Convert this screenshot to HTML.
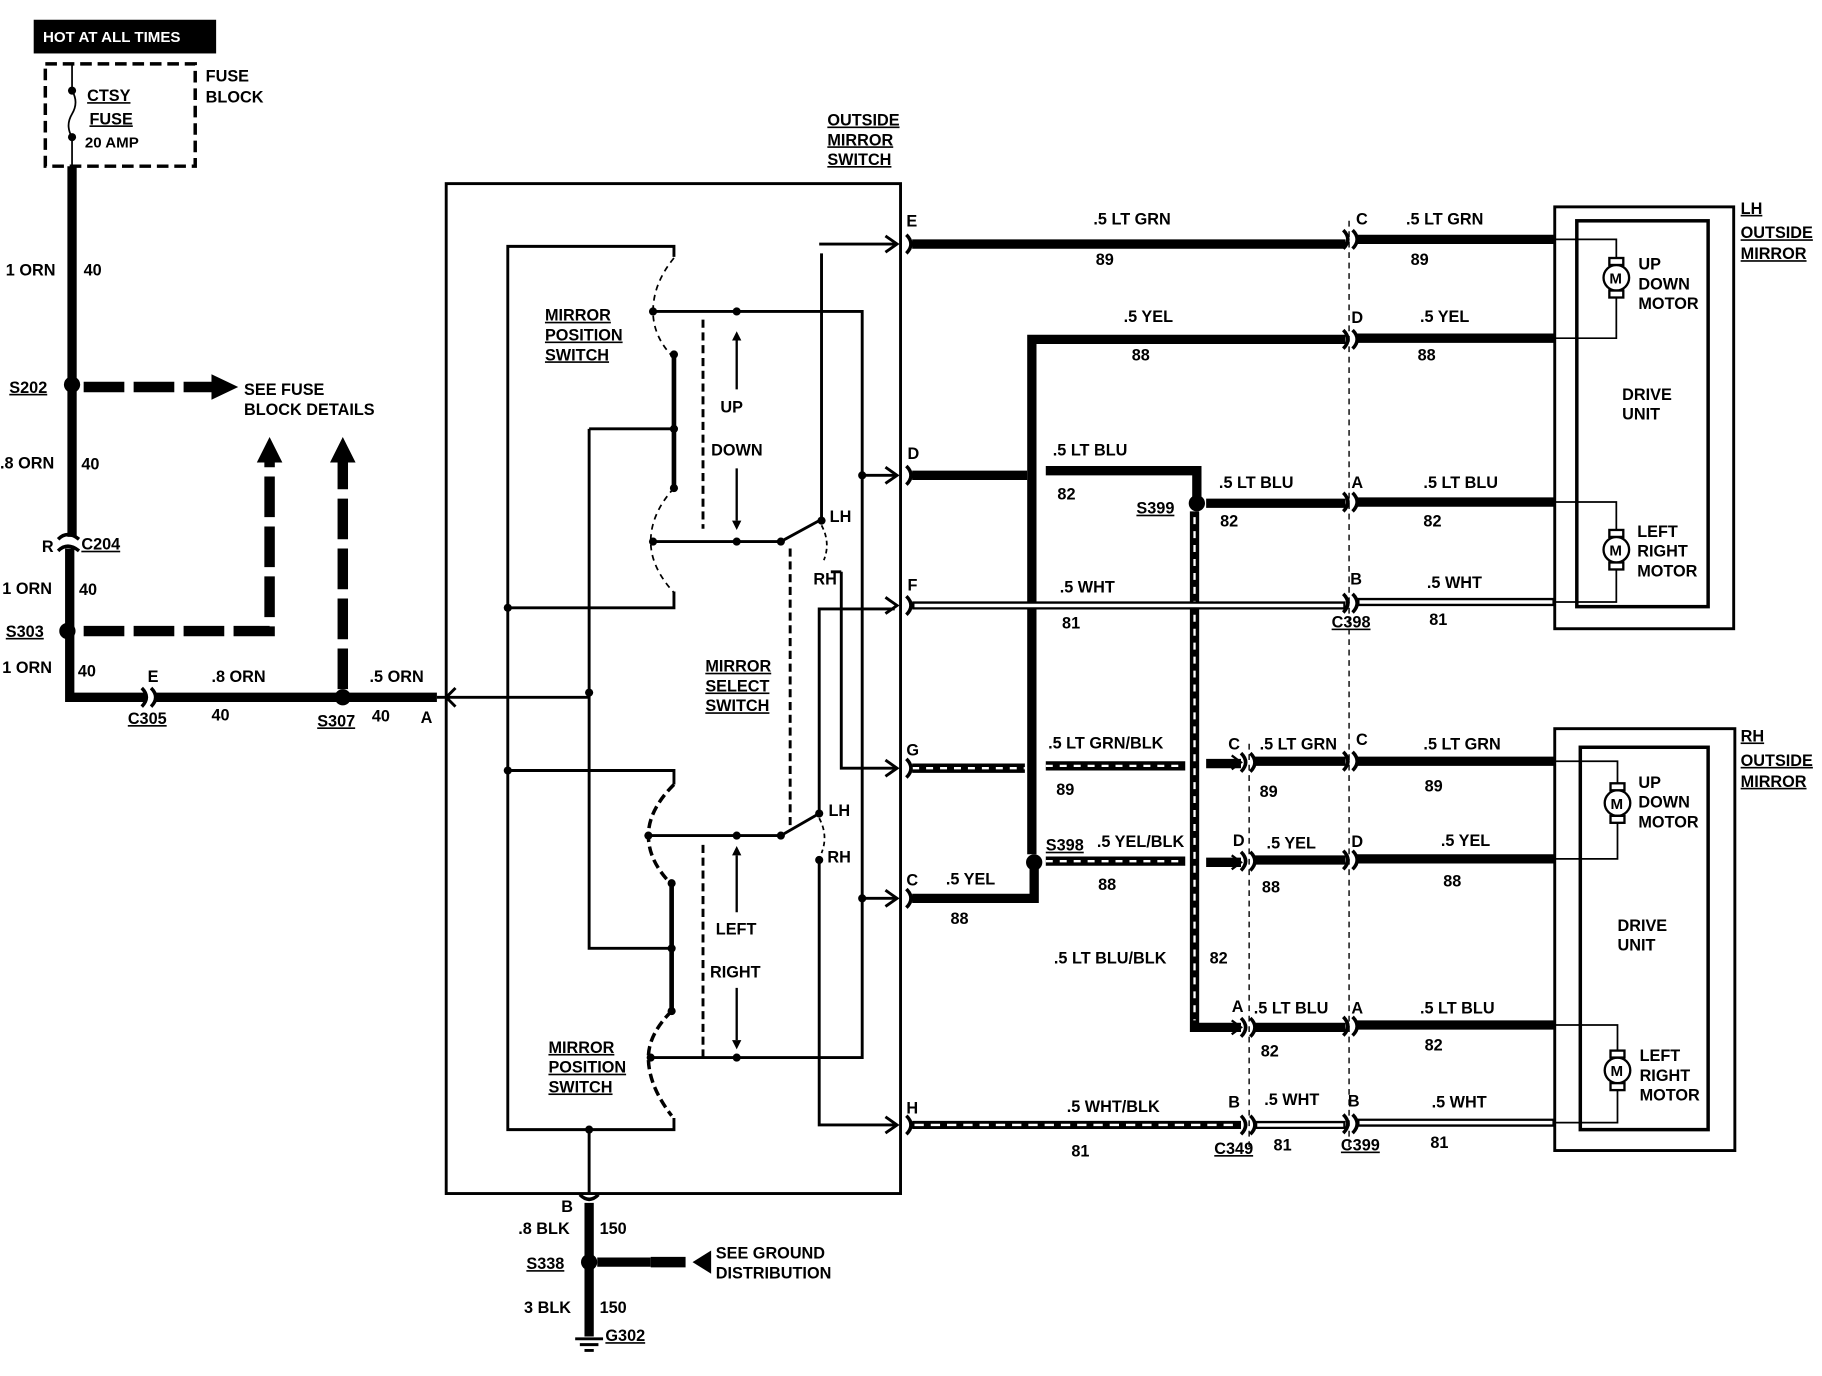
<!DOCTYPE html>
<html><head><meta charset="utf-8"><style>
html,body{margin:0;padding:0;background:#fff}
svg{display:block}
text{font-family:"Liberation Sans",sans-serif;font-weight:bold;font-size:14px;fill:#000}
.u{text-decoration:underline}
</style></head><body>
<svg width="1822" height="1376" viewBox="0 0 1568 1184" preserveAspectRatio="none" xmlns="http://www.w3.org/2000/svg">
<defs>
<g id="motor"><circle cx="0" cy="0" r="11" fill="#fff" stroke="#000" stroke-width="2"/><rect x="-6" y="-17" width="12" height="6" fill="#fff" stroke="#000" stroke-width="2"/><rect x="-6" y="11" width="12" height="6" fill="#fff" stroke="#000" stroke-width="2"/><text x="-6" y="5" style="font-size:13px">M</text></g>
</defs>
<!-- HOT box -->
<rect x="29" y="17" width="157" height="29" fill="#000"/>
<text x="37" y="36" style="fill:#fff;font-size:13px">HOT AT ALL TIMES</text>
<rect x="39" y="55" width="129" height="88" fill="none" stroke="#000" stroke-width="3" stroke-dasharray="10,5"/>
<path d="M62 55 V78 M62 78 q6 10 0 20 q-6 10 0 20 V143" fill="none" stroke="#000" stroke-width="1.5"/>
<circle cx="62" cy="78" r="3.5"/><circle cx="62" cy="118" r="3.5"/>
<text x="75" y="87" class="u">CTSY</text><text x="77" y="107" class="u">FUSE</text>
<text x="73" y="127" style="font-size:13px">20 AMP</text>
<text x="177" y="70">FUSE</text><text x="177" y="88">BLOCK</text>
<!-- main feed -->
<path d="M62 143 V462 M60 472 V600 H126 M134 600 H376" fill="none" stroke="#000" stroke-width="8"/>
<path d="M50 464 q8 -8 18 0 M50 474 q8 -8 18 0 M122 592 q8 8 0 16 M130 592 q8 8 0 16" fill="none" stroke="#000" stroke-width="3"/>
<circle cx="62" cy="331" r="7"/><circle cx="58" cy="543" r="7"/><circle cx="295" cy="600" r="7"/>
<text x="5" y="237">1 ORN</text><text x="72" y="237">40</text>
<text x="8" y="338" class="u">S202</text>
<text x="0" y="403">.8 ORN</text><text x="70" y="404">40</text>
<text x="36" y="475">R</text><text x="70" y="473" class="u">C204</text>
<text x="2" y="511">1 ORN</text><text x="68" y="512">40</text>
<text x="5" y="548" class="u">S303</text>
<text x="2" y="579">1 ORN</text><text x="67" y="582">40</text>
<text x="127" y="587">E</text><text x="182" y="587">.8 ORN</text><text x="110" y="623" class="u">C305</text><text x="182" y="620">40</text>
<text x="273" y="625" class="u">S307</text><text x="320" y="621">40</text><text x="318" y="587">.5 ORN</text><text x="362" y="622">A</text>
<!-- dashed arrows -->
<path d="M72 333 H185 M72 543 H232 V395 M295 593 V395" fill="none" stroke="#000" stroke-width="9" stroke-dasharray="35,8"/>
<path d="M182 322 L205 333 L182 344Z M221 398 L232 376 L243 398Z M284 398 L295 376 L306 398Z"/>
<text x="210" y="340">SEE FUSE</text><text x="210" y="357">BLOCK DETAILS</text>
<!-- switch outer box -->
<rect x="384" y="158" width="391" height="869" fill="none" stroke="#000" stroke-width="2.5"/>
<text x="712" y="108" class="u">OUTSIDE</text><text x="712" y="125" class="u">MIRROR</text><text x="712" y="142" class="u">SWITCH</text>
<path d="M376 600 H507 M392 592 L384 600 L392 608" fill="none" stroke="#000" stroke-width="2.5"/>
<!-- inner -->
<g fill="none" stroke="#000" stroke-width="2.5">
<path d="M580 221 V212 H437 V972 H580 V962"/>
<path d="M437 523 H580 V509"/><path d="M437 663 H580 V675"/>
<path d="M507 369 H580 M507 369 V816 H578"/>
<path d="M580 305 V420 M578 760 V870" stroke-width="4"/>
<path d="M562 268 H742 V910 H560"/>
<path d="M560 466 H672 L705 448 M707 218 V448 M705 210 H770"/>
<path d="M557 719 H672 L705 700 M705 700 V524 H770"/>
<path d="M705 740 V968 H770 M724 492 V661 H770 M715 492 H724"/>
<path d="M742 409 H770 M742 773 H770"/>
<path d="M762 203 L772 210 L762 217 M762 402 L772 409 L762 416 M762 514 L772 521 L762 528 M762 654 L772 661 L762 668 M762 766 L772 773 L762 780 M762 961 L772 968 L762 975"/>
<path d="M580 222 q-18 22 -18 46 q0 22 18 40 M580 420 q-20 22 -20 46 q0 22 20 44" stroke-width="1.5" stroke-dasharray="5,4"/>
<path d="M580 675 q-22 22 -22 44 q0 22 20 42 M578 870 q-20 20 -20 40 q0 24 20 50" stroke-width="3" stroke-dasharray="8,4"/>
<path d="M605 275 V455 M605 727 V912 M680 472 V712" stroke-width="2.5" stroke-dasharray="7,4"/>
<path d="M707 452 q8 15 2 30 M705 704 q8 15 2 30" stroke-width="1.5" stroke-dasharray="4,3"/>
<path d="M634 293 V335 M634 403 V448 M634 736 V785 M634 850 V895" stroke-width="2"/>
</g>
<path d="M630 293 l4 -8 l4 8Z M630 448 l4 8 l4 -8Z M630 736 l4 -8 l4 8Z M630 895 l4 8 l4 -8Z"/>
<g><circle cx="562" cy="268" r="3.5"/><circle cx="634" cy="268" r="3.5"/><circle cx="580" cy="369" r="3.5"/><circle cx="580" cy="305" r="3.5"/><circle cx="580" cy="420" r="3.5"/><circle cx="562" cy="466" r="3.5"/><circle cx="634" cy="466" r="3.5"/><circle cx="672" cy="466" r="3.5"/><circle cx="707" cy="448" r="3.5"/><circle cx="437" cy="523" r="3.5"/><circle cx="507" cy="596" r="3.5"/><circle cx="437" cy="663" r="3.5"/><circle cx="558" cy="719" r="3.5"/><circle cx="634" cy="719" r="3.5"/><circle cx="672" cy="719" r="3.5"/><circle cx="705" cy="700" r="3.5"/><circle cx="705" cy="740" r="3.5"/><circle cx="578" cy="760" r="3.5"/><circle cx="578" cy="816" r="3.5"/><circle cx="578" cy="870" r="3.5"/><circle cx="560" cy="910" r="3.5"/><circle cx="634" cy="910" r="3.5"/><circle cx="742" cy="409" r="3.5"/><circle cx="742" cy="773" r="3.5"/><circle cx="507" cy="972" r="3.5"/></g>
<text x="469" y="276" class="u">MIRROR</text><text x="469" y="293" class="u">POSITION</text><text x="469" y="310" class="u">SWITCH</text>
<text x="620" y="355">UP</text><text x="612" y="392">DOWN</text>
<text x="714" y="449">LH</text><text x="700" y="503">RH</text>
<text x="607" y="578" class="u">MIRROR</text><text x="607" y="595" class="u">SELECT</text><text x="607" y="612" class="u">SWITCH</text>
<text x="713" y="702">LH</text><text x="712" y="742">RH</text>
<text x="616" y="804">LEFT</text><text x="611" y="841">RIGHT</text>
<text x="472" y="906" class="u">MIRROR</text><text x="472" y="923" class="u">POSITION</text><text x="472" y="940" class="u">SWITCH</text>
<!-- ground -->
<path d="M507 972 V1027" stroke="#000" stroke-width="2.5"/>
<path d="M507 1035 V1150 M514 1086 H560" fill="none" stroke="#000" stroke-width="8"/>
<path d="M560 1086 H596" stroke="#000" stroke-width="9" stroke-dasharray="30,6"/>
<path d="M612 1076 L596 1086 L612 1096Z"/>
<path d="M499 1028 q8 8 16 0" fill="none" stroke="#000" stroke-width="3"/>
<circle cx="507" cy="1086" r="7"/>
<path d="M495 1152 H519 M499 1157 H515 M503 1162 H511" stroke="#000" stroke-width="2.5"/>
<text x="483" y="1043">B</text><text x="446" y="1062">.8 BLK</text><text x="516" y="1062">150</text>
<text x="453" y="1092" class="u">S338</text><text x="616" y="1083">SEE GROUND</text><text x="616" y="1100">DISTRIBUTION</text>
<text x="451" y="1130">3 BLK</text><text x="516" y="1130">150</text><text x="521" y="1154" class="u">G302</text>
<!-- right wires -->
<g fill="none" stroke="#000" stroke-width="8">
<path d="M785 210 H1158 M1168 206 H1338"/>
<path d="M1158 292 H888 V735 M1168 291 H1338"/>
<path d="M785 409 H884 M900 405 H1030 V433 M1038 433 H1158 M1168 432 H1338"/>
<path d="M785 773 H890 V742"/>
<path d="M1038 742 H1068 M1080 740 H1158 M1168 739 H1338"/>
<path d="M1080 655 H1158 M1168 655 H1338"/>
<path d="M1080 884 H1158 M1168 882 H1338"/>
</g>
<!-- striped -->
<g fill="none">
<path d="M785 661 H882 M900 659 H1020 M1038 657 H1068" stroke="#000" stroke-width="8"/>
<path d="M785 661 H882 M900 659 H1020" stroke="#fff" stroke-width="2" stroke-dasharray="6,6"/>
<path d="M900 741 H1020" stroke="#000" stroke-width="8"/><path d="M900 741 H1020" stroke="#fff" stroke-width="2" stroke-dasharray="6,6"/>
<path d="M1028 440 V884 H1068" stroke="#000" stroke-width="8"/><path d="M1028 445 V878" stroke="#fff" stroke-width="2" stroke-dasharray="6,6"/>
<path d="M785 968 H1068" stroke="#000" stroke-width="7"/><path d="M787 968 H1066" stroke="#fff" stroke-width="2" stroke-dasharray="8,6"/>
<path d="M785 521 H1158 M1168 518 H1338 M1080 968 H1158 M1168 966 H1338" stroke="#000" stroke-width="7"/>
<path d="M787 521 H1156 M1170 518 H1336 M1082 968 H1156 M1170 966 H1336" stroke="#fff" stroke-width="3"/>
</g>
<circle cx="1030" cy="433" r="7"/><circle cx="890" cy="742" r="7"/>
<!-- connector marks -->
<g fill="none" stroke="#000" stroke-width="3">
<path d="M780 202 q8 8 0 16 M780 401 q8 8 0 16 M780 513 q8 8 0 16 M780 653 q8 8 0 16 M780 765 q8 8 0 16 M780 960 q8 8 0 16"/>
<path d="M1156 198 q8 8 0 16 M1164 198 q8 8 0 16 M1156 284 q8 8 0 16 M1164 284 q8 8 0 16 M1156 424 q8 8 0 16 M1164 424 q8 8 0 16 M1156 511 q8 8 0 16 M1164 511 q8 8 0 16"/>
<path d="M1156 647 q8 8 0 16 M1164 647 q8 8 0 16 M1156 732 q8 8 0 16 M1164 732 q8 8 0 16 M1156 875 q8 8 0 16 M1164 875 q8 8 0 16 M1156 959 q8 8 0 16 M1164 959 q8 8 0 16"/>
<path d="M1068 648 q8 8 0 16 M1076 648 q8 8 0 16 M1068 733 q8 8 0 16 M1076 733 q8 8 0 16 M1068 876 q8 8 0 16 M1076 876 q8 8 0 16 M1068 960 q8 8 0 16 M1076 960 q8 8 0 16"/>
<path d="M1060 650 l8 6 l-8 6 M1060 736 l8 6 l-8 6 M1060 878 l8 6 l-8 6" stroke-width="2"/>
<path d="M1161 190 V990 M1075 640 V990" stroke-width="1.2" stroke-dasharray="5,4"/>
</g>
<!-- labels right -->
<text x="780" y="195">E</text><text x="941" y="193">.5 LT GRN</text><text x="943" y="228">89</text>
<text x="1167" y="193">C</text><text x="1210" y="193">.5 LT GRN</text><text x="1214" y="228">89</text>
<text x="967" y="277">.5 YEL</text><text x="974" y="310">88</text><text x="1163" y="278">D</text><text x="1222" y="277">.5 YEL</text><text x="1220" y="310">88</text>
<text x="781" y="395">D</text><text x="906" y="392">.5 LT BLU</text><text x="910" y="430">82</text>
<text x="978" y="442" class="u">S399</text><text x="1049" y="420">.5 LT BLU</text><text x="1050" y="453">82</text>
<text x="1163" y="420">A</text><text x="1225" y="420">.5 LT BLU</text><text x="1225" y="453">82</text>
<text x="781" y="508">F</text><text x="912" y="510">.5 WHT</text><text x="914" y="541">81</text>
<text x="1162" y="503">B</text><text x="1228" y="506">.5 WHT</text><text x="1146" y="540" class="u">C398</text><text x="1230" y="538">81</text>
<text x="780" y="650">G</text><text x="902" y="644">.5 LT GRN/BLK</text><text x="909" y="684">89</text>
<text x="1057" y="645">C</text><text x="1084" y="645">.5 LT GRN</text><text x="1167" y="641">C</text><text x="1225" y="645">.5 LT GRN</text>
<text x="1084" y="686">89</text><text x="1226" y="681">89</text>
<text x="900" y="732" class="u">S398</text><text x="944" y="729">.5 YEL/BLK</text><text x="945" y="766">88</text>
<text x="1061" y="728">D</text><text x="1090" y="730">.5 YEL</text><text x="1163" y="729">D</text><text x="1240" y="728">.5 YEL</text>
<text x="1086" y="768">88</text><text x="1242" y="763">88</text>
<text x="780" y="762">C</text><text x="814" y="761">.5 YEL</text><text x="818" y="795">88</text>
<text x="907" y="829">.5 LT BLU/BLK</text><text x="1041" y="829">82</text>
<text x="1060" y="871">A</text><text x="1079" y="872">.5 LT BLU</text><text x="1163" y="872">A</text><text x="1222" y="872">.5 LT BLU</text>
<text x="1085" y="909">82</text><text x="1226" y="904">82</text>
<text x="780" y="958">H</text><text x="918" y="957">.5 WHT/BLK</text><text x="922" y="995">81</text>
<text x="1057" y="953">B</text><text x="1088" y="951">.5 WHT</text><text x="1160" y="952">B</text><text x="1232" y="953">.5 WHT</text>
<text x="1045" y="993" class="u">C349</text><text x="1096" y="990">81</text><text x="1154" y="990" class="u">C399</text><text x="1231" y="988">81</text>
<!-- mirrors -->
<g fill="none" stroke="#000">
<rect x="1338" y="178" width="154" height="363" stroke-width="2.5"/>
<rect x="1357" y="190" width="113" height="332" stroke-width="3"/>
<rect x="1338" y="627" width="155" height="363" stroke-width="2.5"/>
<rect x="1360" y="643" width="110" height="329" stroke-width="3"/>
<path d="M1338 206 H1391 V222 M1391 256 V291 H1338 M1338 432 H1391 V456 M1391 490 V518 H1338" stroke-width="1.5"/>
<path d="M1338 655 H1392 V674 M1392 708 V739 H1338 M1338 882 H1392 V904 M1392 938 V966 H1338" stroke-width="1.5"/>
</g>
<use href="#motor" x="1391" y="239"/><use href="#motor" x="1391" y="473"/>
<use href="#motor" x="1392" y="691"/><use href="#motor" x="1392" y="921"/>
<text x="1498" y="184" class="u">LH</text><text x="1498" y="205" class="u">OUTSIDE</text><text x="1498" y="223" class="u">MIRROR</text>
<text x="1410" y="232">UP</text><text x="1410" y="249">DOWN</text><text x="1410" y="266">MOTOR</text>
<text x="1396" y="344">DRIVE</text><text x="1396" y="361">UNIT</text>
<text x="1409" y="462">LEFT</text><text x="1409" y="479">RIGHT</text><text x="1409" y="496">MOTOR</text>
<text x="1498" y="638" class="u">RH</text><text x="1498" y="659" class="u">OUTSIDE</text><text x="1498" y="677" class="u">MIRROR</text>
<text x="1410" y="678">UP</text><text x="1410" y="695">DOWN</text><text x="1410" y="712">MOTOR</text>
<text x="1392" y="801">DRIVE</text><text x="1392" y="818">UNIT</text>
<text x="1411" y="913">LEFT</text><text x="1411" y="930">RIGHT</text><text x="1411" y="947">MOTOR</text>
</svg>
</body></html>
